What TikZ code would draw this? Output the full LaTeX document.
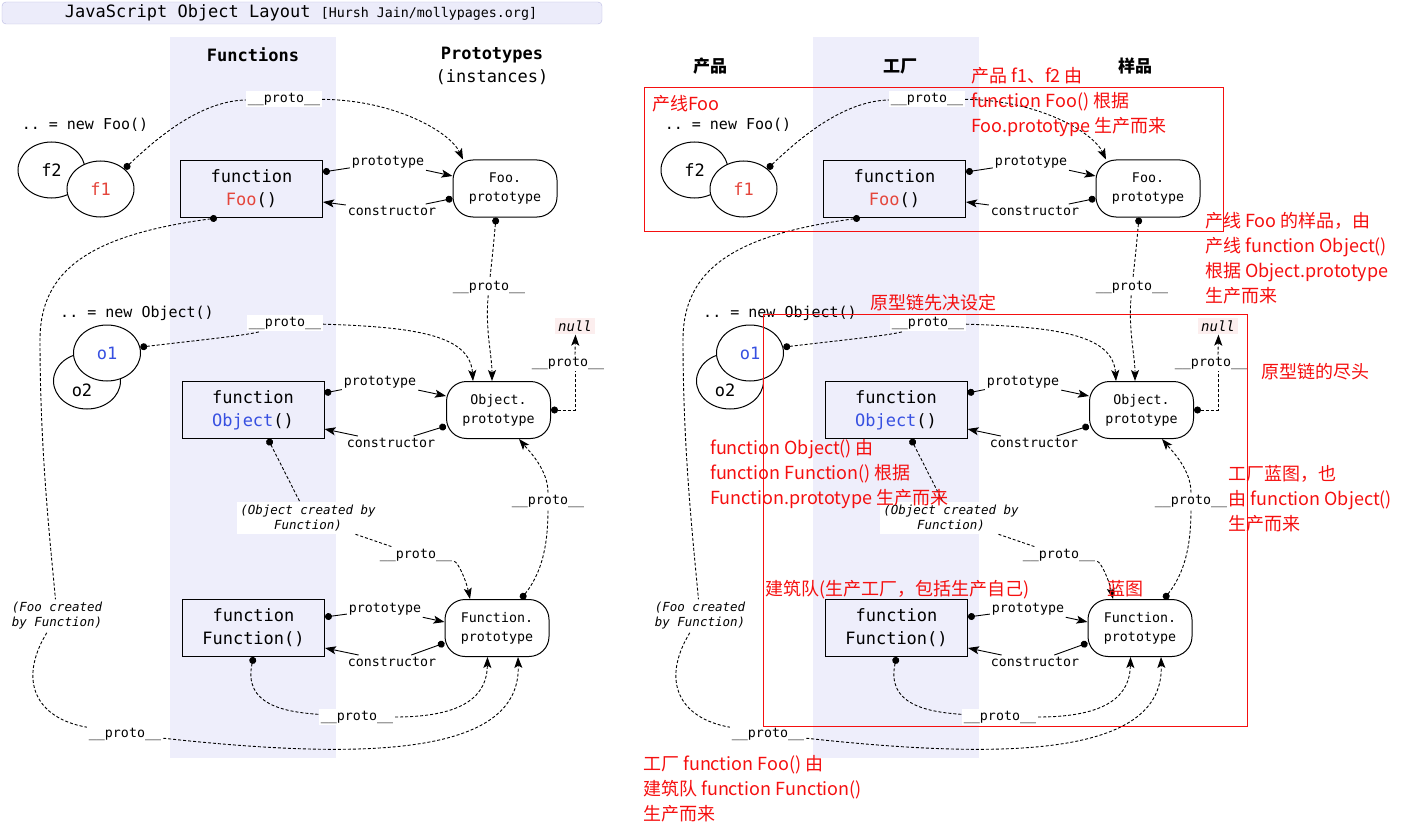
\documentclass[tikz,border=0pt]{standalone}
\usepackage{fontspec}
\setmonofont{DejaVu Sans Mono}
\newfontfamily\cjk{Noto Sans CJK SC}
\usetikzlibrary{arrows.meta,shapes.geometric}

\definecolor{colshade}{RGB}{238,238,251}
\definecolor{titlefill}{RGB}{236,236,250}
\definecolor{titledraw}{RGB}{185,185,225}
\definecolor{foored}{RGB}{228,70,60}
\definecolor{objblue}{RGB}{55,80,225}
\definecolor{nullbg}{RGB}{252,238,238}
\definecolor{annot}{RGB}{245,15,15}

\newcommand\bigtt{\fontsize{17}{23}\selectfont\ttfamily}
\newcommand\smalltt{\fontsize{13.3}{19}\selectfont\ttfamily}
\newcommand\redtxt{\fontsize{18}{25}\selectfont\cjk}
\newcommand\prt{\_\_proto\_\_}

\tikzset{
  fnbox/.style={draw, line width=1pt, minimum width=142pt, minimum height=57pt, align=center, font=\bigtt},
  protobox/.style={draw, line width=1pt, rounded corners=20pt, minimum width=104pt, minimum height=57pt, align=center, font=\smalltt},
  inst/.style={draw, ellipse, line width=1pt, fill=white, minimum width=67pt, minimum height=56pt, inner sep=0pt, font=\bigtt},
  lbl/.style={fill=white, inner sep=2pt, font=\smalltt},
  note/.style={fill=white, inner sep=3pt, align=center, font=\fontsize{12.5}{15}\selectfont\ttfamily\itshape},
  ptr/.style={line width=0.9pt, arrows={Circle[length=7pt]-}},
  ptrend/.style={line width=0.9pt, arrows={-Stealth[length=11pt,width=8pt,inset=2.5pt]}},
  chain/.style={ptr, dash pattern=on 3pt off 2pt},
  chainmid/.style={line width=0.9pt, dash pattern=on 3pt off 2pt},
  chainend/.style={ptrend, dash pattern=on 3pt off 2pt},
  hdr/.style={font=\fontsize{17}{17}\selectfont\cjk\bfseries},
  anno/.style={anchor=north west, align=left, inner sep=0pt, text=annot, font=\redtxt},
  redbox/.style={draw=annot, line width=1pt},
}

\begin{document}
\begin{tikzpicture}[x=1pt,y=-1pt]
\useasboundingbox (0,0) rectangle (1406,832);

% title bar
\draw[titledraw, fill=titlefill, rounded corners=4pt] (2,2) rectangle (602,24);
\node (title) at (301,13) {\fontsize{17}{17}\selectfont\ttfamily JavaScript Object Layout {\fontsize{13.3}{13.3}\selectfont [Hursh Jain/mollypages.org]}};

\foreach \p/\dx in {L/0,R/643}{
\begin{scope}[xshift=\dx pt]
  \fill[colshade] (170,37) rectangle (336,758);

  % instances
  \node[font=\fontsize{15}{15}\selectfont\ttfamily] (\p-newfoo) at (85,125) {.. = new Foo()};
  \node[inst] (\p-f2) at (51.5,170) {f2};
  \node[inst, text=foored] (\p-f1) at (100.5,189) {f1};
  \node[font=\fontsize{15}{15}\selectfont\ttfamily] (\p-newobj) at (137,313) {.. = new Object()};
  \node[inst] (\p-o2) at (87,381) {};
  \node[font=\bigtt] (\p-o2t) at (82,390) {o2};
  \node[inst, text=objblue] (\p-o1) at (107,353) {o1};

  % functions and prototypes
  \node[fnbox] (\p-fb) at (251.5,189) {function\\\textcolor{foored}{Foo}()};
  \node[protobox] (\p-fp) at (505,188.5) {Foo.\\prototype};
  \node[fnbox] (\p-ob) at (253,410) {function\\\textcolor{objblue}{Object}()};
  \node[protobox] (\p-op) at (498.5,410) {Object.\\prototype};
  \node[fnbox] (\p-nb) at (253.5,628) {function\\Function()};
  \node[protobox] (\p-np) at (497,628) {Function.\\prototype};

  \node[lbl] (\p-fpt) at (388,162) {prototype};
  \node[lbl] (\p-fct) at (392,211) {constructor};
  \node[lbl] (\p-opt) at (380,382) {prototype};
  \node[lbl] (\p-oct) at (391,443) {constructor};
  \node[lbl] (\p-npt) at (385,609) {prototype};
  \node[lbl] (\p-nct) at (392,662) {constructor};

  \node[lbl] (\p-pf1) at (284,99) {\prt};
  \node[lbl] (\p-pfp) at (489,287) {\prt};
  \node[lbl] (\p-po1) at (285,323) {\prt};
  \node[lbl] (\p-pnl) at (568,363) {\prt};
  \node[fill=nullbg, inner sep=3pt, font=\fontsize{14}{14}\selectfont\ttfamily\itshape] (\p-null) at (575,326) {null};
  \node[note] (\p-nob) at (308,518) {(Object created by\\Function)};
  \node[lbl] (\p-pob) at (416,555) {\prt};
  \node[lbl] (\p-pnp) at (548,501) {\prt};
  \node[lbl] (\p-pnb) at (357,717) {\prt};
  \node[note] (\p-nfb) at (57,616) {(Foo created\\by Function)};
  \node[lbl] (\p-pfb) at (125,734) {\prt};

  % prototype / constructor
  \foreach \rw/\a/\b/\c/\d in {f/17/12.5/-10/-13, o/17/14/-16/-19, n/11/6/-15/-20}{
    \draw[ptr] ([yshift=\a pt]\p-\rw b.east) -- (\p-\rw pt);
    \draw[ptrend] (\p-\rw pt) -- ([yshift=\b pt]\p-\rw p.west);
    \draw[ptr] ([yshift=\c pt]\p-\rw p.west) -- (\p-\rw ct);
    \draw[ptrend] (\p-\rw ct) -- ([yshift=\d pt]\p-\rw b.east);
  }

  % __proto__ chains
  \draw[chain] (\p-f1.40) .. controls (165,130) and (205,101) .. (\p-pf1);
  \draw[chainend] (\p-pf1) .. controls (395,100) and (450,132) .. ([xshift=-42pt]\p-fp.north);

  \draw[chain] ([xshift=-9pt]\p-fp.south) .. controls (493,250) .. (\p-pfp);
  \draw[chainend] (\p-pfp) .. controls (485,330) and (492,355) .. ([xshift=-6.5pt]\p-op.north);

  \draw[chain] (\p-o1.10) .. controls (200,340) and (250,335) .. (\p-po1);
  \draw[chainend] (\p-po1) .. controls (415,327) and (470,335) .. ([xshift=-25.5pt]\p-op.north);

  \draw[chain] (\p-op.east) -| ([xshift=7pt]\p-pnl.south);
  \draw[chainend] ([xshift=7pt]\p-pnl.north) -- ([xshift=0.5pt]\p-null.south);

  \draw[chain] ([xshift=15pt]\p-ob.south) -- (\p-nob);
  \draw[chainmid] (\p-nob) -- (\p-pob);
  \draw[chainend] (\p-pob) .. controls (458,562) and (466,580) .. ([xshift=-27pt]\p-np.north);

  \draw[chain] ([xshift=24pt]\p-np.north) .. controls (540,575) and (548,550) .. (\p-pnp);
  \draw[chainend] (\p-pnp) .. controls (548,470) and (530,452) .. ([xshift=20.5pt]\p-op.south);

  \draw[chain] (\p-nb.south) .. controls (243,705) and (285,712) .. (\p-pnb);
  \draw[chainend] (\p-pnb) .. controls (465,717) and (487,695) .. ([xshift=-9.5pt]\p-np.south);

  \draw[chain] ([xshift=-34.5pt]\p-fb.south) .. controls (90,235) and (40,270) .. (40,340) .. controls (40,450) and (50,540) .. (\p-nfb);
  \draw[chainmid] (\p-nfb) .. controls (18,680) and (35,718) .. (\p-pfb);
  \draw[chainend] (\p-pfb) .. controls (380,762) and (521,752) .. ([xshift=21pt]\p-np.south);
\end{scope}
}

% column headers
\node[font=\fontsize{17}{17}\selectfont\ttfamily\bfseries] (hfun) at (253,55) {Functions};
\node[font=\fontsize{17}{17}\selectfont\ttfamily\bfseries] (hproto) at (492,55) {Prototypes};
\node[font=\fontsize{17}{17}\selectfont\ttfamily] (hinst) at (492,77) {(instances)};
\node[hdr] (hprod) at (710,66) {产品};
\node[hdr] (hfac) at (900,66) {工厂};
\node[hdr] (hsamp) at (1135,66) {样品};

% annotations
\draw[redbox] (644,88) rectangle (1223,231);
\draw[redbox] (763,314) rectangle (1247,726);
\node[anno] (a1) at (652,95) {产线Foo};
\node[anno] (a2) at (971,67) {产品 f1、f2 由\\function Foo() 根据\\Foo.prototype 生产而来};
\node[anno] (a3) at (1205,212) {产线 Foo 的样品，由\\产线 function Object()\\根据 Object.prototype\\生产而来};
\node[anno] (a4) at (870,294) {原型链先决设定};
\node[anno] (a5) at (1261,363) {原型链的尽头};
\node[anno] (a6) at (710,439) {function Object() 由\\function Function() 根据\\Function.prototype 生产而来};
\node[anno] (a7) at (1228,465) {工厂蓝图，也\\由 function Object()\\生产而来};
\node[anno] (a8) at (765,580) {建筑队(生产工厂，包括生产自己)};
\node[anno] (a9) at (1107,580) {蓝图};
\node[anno] (a10) at (643,755) {工厂 function Foo() 由\\建筑队 function Function()\\生产而来};
\end{tikzpicture}
\end{document}
